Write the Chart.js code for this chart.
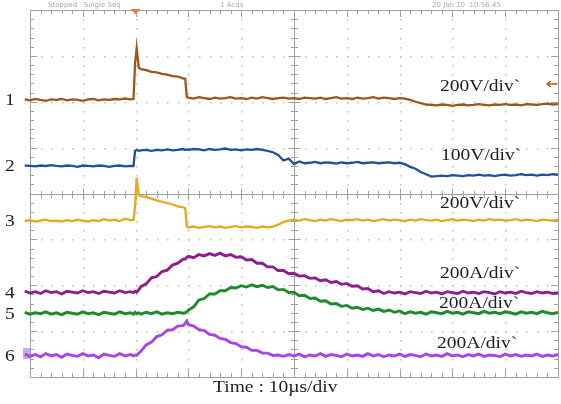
<!DOCTYPE html>
<html>
<head>
<meta charset="utf-8">
<script src="https://cdn.jsdelivr.net/npm/chart.js@4.4.0/dist/chart.umd.min.js"></script>
<style>
  html, body { margin: 0; padding: 0; background: #ffffff; }
  canvas { display: block; }
</style>
</head>
<body>
<canvas id="scopeChart" width="561" height="404" style="width:561px;height:404px"></canvas>
<script>
// sample times in microseconds (10 us per division)
var time = [
    -1, 0, 1, 2, 3, 4, 5, 6, 7, 8, 9,
    10, 11, 12, 13, 14, 15, 16, 17, 18, 19,
    19.6, 19.9, 20.2, 20.6,
    21, 22, 23, 24, 25, 26, 27, 28, 29,
    29.4, 29.7,
    30, 31, 32, 33, 34, 35, 36, 37, 38, 39,
    40, 41, 42, 43, 44, 45, 46, 47, 48, 49,
    50, 51, 52, 53, 54, 55, 56, 57, 58, 59,
    60, 61, 62, 63, 64, 65, 66, 67, 68, 69,
    70, 71, 72, 73, 74, 75, 76, 77, 78, 79,
    80, 81, 82, 83, 84, 85, 86, 87, 88, 89,
    90, 91, 92, 93, 94, 95, 96, 97, 98, 99,
    100
];

// trace levels, in screen divisions (0 = bottom, 8 = top)
var ch1 = [
    6.05, 6.03, 6.06, 6.04, 6.02, 6.05, 6.04, 6.06, 6.03, 6.05, 6.04,
    6.02, 6.05, 6.06, 6.03, 6.05, 6.04, 6.06, 6.05, 6.07, 6.05,
    6.06, 6.84, 7.17, 6.74,
    6.71, 6.69, 6.65, 6.64, 6.61, 6.59, 6.56, 6.55, 6.51,
    6.50, 6.10,
    6.09, 6.07, 6.10, 6.08, 6.06, 6.09, 6.07, 6.08, 6.10, 6.07,
    6.08, 6.06, 6.09, 6.07, 6.10, 6.08, 6.06, 6.08, 6.09, 6.07,
    6.08, 6.06, 6.09, 6.08, 6.07, 6.09, 6.06, 6.08, 6.10, 6.07,
    6.08, 6.06, 6.09, 6.07, 6.08, 6.10, 6.07, 6.09, 6.08, 6.06,
    6.08, 6.07, 6.04, 6.00, 5.97, 5.94, 5.93, 5.92, 5.94, 5.93,
    5.91, 5.93, 5.94, 5.92, 5.93, 5.95, 5.93, 5.92, 5.94, 5.93,
    5.95, 5.93, 5.94, 5.92, 5.95, 5.94, 5.93, 5.95, 5.96, 5.94,
    5.95
];
var ch2 = [
    4.61, 4.60, 4.59, 4.61, 4.60, 4.62, 4.60, 4.59, 4.61, 4.60, 4.58,
    4.61, 4.60, 4.59, 4.61, 4.60, 4.58, 4.60, 4.61, 4.59, 4.60,
    4.60, 4.93, 4.95, 4.93,
    4.94, 4.95, 4.93, 4.95, 4.94, 4.96, 4.94, 4.95, 4.97,
    4.95, 4.96,
    4.95, 4.97, 4.96, 4.94, 4.97, 4.95, 4.96, 4.98, 4.95, 4.96,
    4.94, 4.96, 4.95, 4.97, 4.95, 4.93, 4.90, 4.84, 4.72, 4.76,
    4.64, 4.70, 4.66, 4.67, 4.69, 4.66, 4.68, 4.67, 4.65, 4.68,
    4.66, 4.67, 4.69, 4.66, 4.67, 4.68, 4.66, 4.67, 4.68, 4.66,
    4.67, 4.64, 4.58, 4.54, 4.47, 4.42, 4.37, 4.38, 4.39, 4.38,
    4.40, 4.39, 4.38, 4.40, 4.39, 4.41, 4.39, 4.40, 4.38, 4.40,
    4.41, 4.39, 4.40, 4.42, 4.40, 4.41, 4.39, 4.41, 4.40, 4.42,
    4.41
];
var ch3 = [
    3.40, 3.42, 3.39, 3.41, 3.43, 3.40, 3.41, 3.39, 3.42, 3.40, 3.43,
    3.41, 3.39, 3.42, 3.40, 3.44, 3.41, 3.43, 3.40, 3.45, 3.42,
    3.42, 3.72, 4.34, 3.97,
    3.94, 3.92, 3.89, 3.85, 3.82, 3.79, 3.76, 3.72, 3.70,
    3.68, 3.28,
    3.26, 3.28, 3.25, 3.27, 3.29, 3.26, 3.28, 3.25, 3.27, 3.29,
    3.26, 3.28, 3.27, 3.25, 3.28, 3.26, 3.28, 3.32, 3.38, 3.41,
    3.43, 3.41, 3.44, 3.42, 3.40, 3.43, 3.41, 3.44, 3.42, 3.40,
    3.43, 3.42, 3.44, 3.41, 3.43, 3.40, 3.42, 3.44, 3.41, 3.43,
    3.42, 3.40, 3.43, 3.41, 3.44, 3.42, 3.41, 3.43, 3.40, 3.42,
    3.44, 3.41, 3.43, 3.42, 3.40, 3.43, 3.41, 3.44, 3.42, 3.43,
    3.41, 3.42, 3.44, 3.41, 3.43, 3.42, 3.40, 3.43, 3.42, 3.41,
    3.43
];
var ch4 = [
    1.87, 1.83, 1.86, 1.82, 1.88, 1.84, 1.86, 1.81, 1.87, 1.85, 1.83,
    1.88, 1.84, 1.86, 1.82, 1.87, 1.85, 1.83, 1.88, 1.84, 1.86,
    1.84, 1.87, 1.85, 1.90,
    1.97, 2.03, 2.16, 2.19, 2.30, 2.33, 2.44, 2.48, 2.57,
    2.57, 2.61,
    2.63, 2.60, 2.67, 2.64, 2.69, 2.65, 2.70, 2.64, 2.67, 2.61,
    2.62, 2.55, 2.56, 2.48, 2.48, 2.40, 2.40, 2.32, 2.32, 2.25,
    2.26, 2.20, 2.21, 2.15, 2.16, 2.10, 2.12, 2.06, 2.08, 2.02,
    2.04, 1.98, 1.99, 1.92, 1.93, 1.86, 1.88, 1.82, 1.86, 1.83,
    1.85, 1.81, 1.86, 1.84, 1.82, 1.87, 1.83, 1.85, 1.81, 1.86,
    1.84, 1.82, 1.87, 1.83, 1.85, 1.82, 1.86, 1.84, 1.81, 1.86,
    1.83, 1.85, 1.82, 1.87, 1.84, 1.82, 1.86, 1.83, 1.85, 1.82,
    1.84
];
var ch5 = [
    1.41, 1.37, 1.40, 1.38, 1.42, 1.37, 1.40, 1.36, 1.41, 1.39, 1.37,
    1.42, 1.38, 1.40, 1.36, 1.41, 1.39, 1.37, 1.42, 1.38, 1.40,
    1.37, 1.41, 1.38, 1.40,
    1.37, 1.41, 1.38, 1.42, 1.37, 1.40, 1.38, 1.41, 1.39,
    1.40, 1.42,
    1.46, 1.53, 1.68, 1.71, 1.81, 1.81, 1.88, 1.88, 1.95, 1.94,
    1.99, 1.96, 2.01, 1.97, 2.00, 1.95, 1.97, 1.90, 1.91, 1.84,
    1.85, 1.77, 1.78, 1.71, 1.72, 1.65, 1.66, 1.59, 1.60, 1.54,
    1.56, 1.50, 1.52, 1.47, 1.50, 1.45, 1.48, 1.43, 1.46, 1.41,
    1.44, 1.38, 1.42, 1.39, 1.41, 1.37, 1.42, 1.40, 1.38, 1.43,
    1.39, 1.41, 1.37, 1.42, 1.40, 1.38, 1.43, 1.39, 1.41, 1.38,
    1.42, 1.40, 1.37, 1.42, 1.39, 1.41, 1.38, 1.43, 1.40, 1.38,
    1.41
];
var ch6 = [
    0.50, 0.45, 0.49, 0.44, 0.51, 0.46, 0.49, 0.43, 0.50, 0.47, 0.45,
    0.51, 0.46, 0.48, 0.42, 0.50, 0.47, 0.45, 0.51, 0.46, 0.49,
    0.46, 0.48, 0.47, 0.52,
    0.56, 0.70, 0.76, 0.88, 0.92, 1.02, 1.03, 1.11, 1.12,
    1.17, 1.22,
    1.14, 1.11, 1.03, 1.01, 0.93, 0.91, 0.84, 0.82, 0.75, 0.73,
    0.66, 0.65, 0.58, 0.58, 0.52, 0.52, 0.47, 0.48, 0.45, 0.49,
    0.46, 0.50, 0.44, 0.48, 0.46, 0.51, 0.45, 0.49, 0.47, 0.44,
    0.50, 0.46, 0.48, 0.45, 0.51, 0.46, 0.49, 0.44, 0.48, 0.46,
    0.50, 0.45, 0.49, 0.47, 0.44, 0.50, 0.46, 0.48, 0.45, 0.51,
    0.46, 0.48, 0.44, 0.49, 0.46, 0.50, 0.45, 0.48, 0.47, 0.44,
    0.50, 0.46, 0.49, 0.45, 0.48, 0.46, 0.50, 0.45, 0.48, 0.46,
    0.49
];

var chNames = ['1', '2', '3', '4', '5', '6'];
var chScales = ['200V/div`', '100V/div`', '200V/div`', '200A/div`', '200A/div`', '200A/div`'];
var timeLabel = 'Time : 10\u00b5s/div';
var statusTexts = ['Stopped   Single Seq', '1 Acqs', '20 Jan 10  10:56:45'];

function toPoints(values) {
    return time.map(function (t, i) { return { x: t, y: values[i] }; });
}

function serifText(ctx, s, x, y) {
    ctx.save();
    ctx.translate(x, y);
    ctx.scale(1.22, 1);
    ctx.fillText(s, 0, 0);
    ctx.restore();
}

var scopeGrid = {
    id: 'scopeGrid',
    beforeDatasetsDraw: function (chart) {
        var ctx = chart.ctx, a = chart.chartArea;
        var xs = chart.scales.x, ys = chart.scales.y;
        var i, k, px, py, len;
        ctx.save();
        // dotted graticule
        ctx.fillStyle = '#bdbdbd';
        for (i = 1; i < 10; i++) {
            if (i === 5) continue;
            px = Math.round(xs.getPixelForValue(i * 10));
            for (k = 1; k < 40; k++) {
                py = Math.round(ys.getPixelForValue(k * 0.2));
                ctx.fillRect(px, py, 1.5, 1.5);
            }
        }
        for (i = 1; i < 8; i++) {
            if (i === 4) continue;
            py = Math.round(ys.getPixelForValue(i));
            for (k = 1; k < 50; k++) {
                px = Math.round(xs.getPixelForValue(k * 2));
                ctx.fillRect(px, py, 1.5, 1.5);
            }
        }
        // frame and centre axes
        ctx.strokeStyle = '#a0a0a0';
        ctx.lineWidth = 1;
        ctx.strokeRect(Math.round(a.left) + 0.5, Math.round(a.top) + 0.5,
            Math.round(a.right - a.left), Math.round(a.bottom - a.top));
        var cx = Math.round(xs.getPixelForValue(50)) + 0.5;
        var cy = Math.round(ys.getPixelForValue(4)) + 0.5;
        ctx.beginPath();
        ctx.moveTo(a.left, cy); ctx.lineTo(a.right, cy);
        ctx.moveTo(cx, a.top); ctx.lineTo(cx, a.bottom);
        for (k = 0; k <= 50; k++) {
            px = Math.round(xs.getPixelForValue(k * 2)) + 0.5;
            len = k % 5 === 0 ? 7 : 4;
            ctx.moveTo(px, a.top); ctx.lineTo(px, a.top + len);
            ctx.moveTo(px, a.bottom); ctx.lineTo(px, a.bottom - len);
            len = k % 5 === 0 ? 6 : 3.5;
            ctx.moveTo(px, cy - len); ctx.lineTo(px, cy + len);
        }
        for (k = 0; k <= 40; k++) {
            py = Math.round(ys.getPixelForValue(k * 0.2)) + 0.5;
            len = k % 5 === 0 ? 7 : 4;
            ctx.moveTo(a.left, py); ctx.lineTo(a.left + len, py);
            ctx.moveTo(a.right, py); ctx.lineTo(a.right - len, py);
            len = k % 5 === 0 ? 6 : 3.5;
            ctx.moveTo(cx - len, py); ctx.lineTo(cx + len, py);
        }
        ctx.stroke();
        // status line
        ctx.fillStyle = '#a8a8a8';
        ctx.font = '7px "DejaVu Sans"';
        ctx.textBaseline = 'alphabetic';
        ctx.fillText(statusTexts[0], 48, 7);
        ctx.fillText(statusTexts[1], 220, 7);
        ctx.fillText(statusTexts[2], 432, 7);
        // trigger marker
        px = xs.getPixelForValue(20);
        ctx.fillStyle = '#f07a3c';
        ctx.beginPath();
        ctx.moveTo(px - 5, a.top - 1); ctx.lineTo(px + 5, a.top - 1); ctx.lineTo(px, a.top + 4.5);
        ctx.closePath();
        ctx.fill();
        // ch6 ground marker
        ctx.fillStyle = '#c9a6f2';
        ctx.fillRect(23, ys.getPixelForValue(ch6[0]) - 6, 7, 11);
        ctx.restore();
    },
    afterDatasetsDraw: function (chart) {
        var ctx = chart.ctx;
        ctx.save();
        ctx.fillStyle = '#1e1e1e';
        ctx.font = '16px "Liberation Serif"';
        ctx.textBaseline = 'alphabetic';
        var nameY = [105, 171, 226, 298, 319, 361];
        var scaleY = [91, 160, 208, 278, 308, 348];
        var scaleX = [440, 441, 440, 440, 439, 437];
        for (var i = 0; i < 6; i++) {
            serifText(ctx, chNames[i], 5, nameY[i]);
            serifText(ctx, chScales[i], scaleX[i], scaleY[i]);
        }
        serifText(ctx, timeLabel, 213, 392);
        // trigger level arrow
        ctx.strokeStyle = '#b0602a';
        ctx.lineWidth = 1.5;
        ctx.beginPath();
        ctx.moveTo(547, 84); ctx.lineTo(557, 84);
        ctx.moveTo(551, 81); ctx.lineTo(547, 84); ctx.lineTo(551, 87);
        ctx.stroke();
        ctx.restore();
    }
};

function trace(values, color, width) {
    return {
        data: toPoints(values),
        borderColor: color,
        borderWidth: width,
        pointRadius: 0,
        tension: 0,
        fill: false,
        clip: false
    };
}

var scopeChart = new Chart(document.getElementById('scopeChart').getContext('2d'), {
    type: 'line',
    data: {
        datasets: [
            trace(ch1, '#9e5518', 2.3),
            trace(ch2, '#1f4f9e', 2.3),
            trace(ch3, '#e8a71e', 2.3),
            trace(ch4, '#8c1f8c', 2.9),
            trace(ch5, '#1f8a2b', 2.9),
            trace(ch6, '#a946e2', 2.9)
        ]
    },
    options: {
        responsive: false,
        animation: false,
        maintainAspectRatio: false,
        layout: { padding: { left: 30, right: 3, top: 10, bottom: 27 } },
        plugins: { legend: { display: false }, tooltip: { enabled: false } },
        scales: {
            x: { type: 'linear', min: 0, max: 100, display: false },
            y: { type: 'linear', min: 0, max: 8, display: false }
        }
    },
    plugins: [scopeGrid]
});
</script>
</body>
</html>
